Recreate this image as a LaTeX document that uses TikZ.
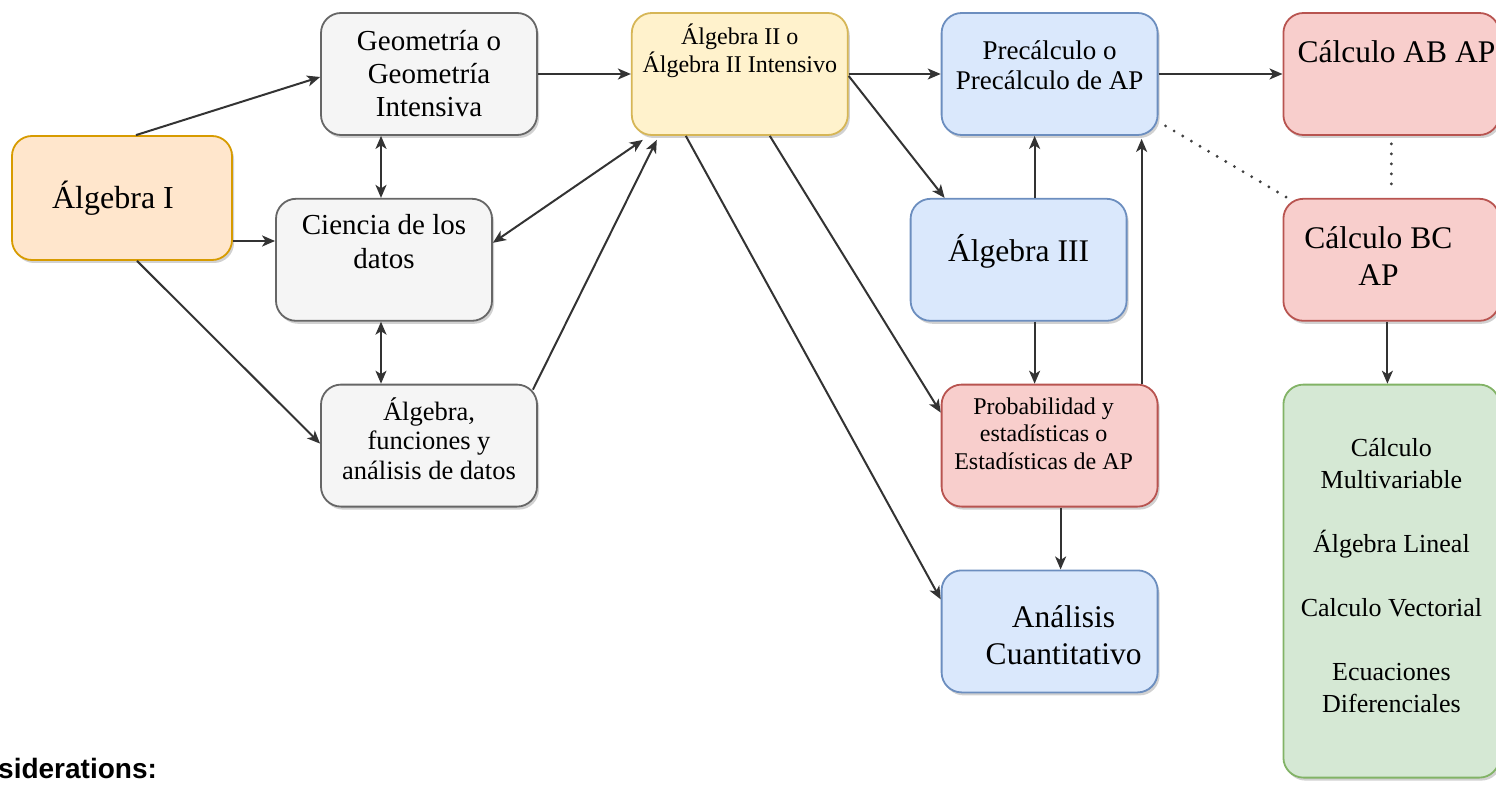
\documentclass[tikz,border=0pt]{standalone}
\usepackage{fontspec}
\setmainfont{Liberation Serif}
\setsansfont{Liberation Sans}
\usepackage{tikz}
\usetikzlibrary{arrows.meta,shadows,positioning}
\definecolor{naranjaF}{HTML}{FFE6CC}\definecolor{naranjaD}{HTML}{D79B00}
\definecolor{grisF}{HTML}{F5F5F5}\definecolor{grisD}{HTML}{666666}
\definecolor{amarilloF}{HTML}{FFF2CC}\definecolor{amarilloD}{HTML}{D6B656}
\definecolor{azulF}{HTML}{DAE8FC}\definecolor{azulD}{HTML}{6C8EBF}
\definecolor{rojoF}{HTML}{F8CECC}\definecolor{rojoD}{HTML}{B85450}
\definecolor{verdeF}{HTML}{D5E8D4}\definecolor{verdeD}{HTML}{82B366}

\begin{document}
\begin{tikzpicture}[x=1pt, y=1pt, node distance=62pt,
  caja/.style={rectangle, rounded corners=20pt, line width=1.8pt, minimum width=216pt, minimum height=122pt,
    drop shadow={shadow xshift=2pt, shadow yshift=-3pt, opacity=0.3, fill=black!60}},
  gris/.style={caja, draw=grisD, fill=grisF},
  naranja/.style={caja, draw=naranjaD, fill=naranjaF},
  amarillo/.style={caja, draw=amarilloD, fill=amarilloF},
  azul/.style={caja, draw=azulD, fill=azulF},
  rojo/.style={caja, draw=rojoD, fill=rojoF},
  verde/.style={caja, draw=verdeD, fill=verdeF},
  txt/.style 2 args={align=center, inner sep=0pt, font=\fontsize{#1}{#2}\selectfont},
  flecha/.style={draw=black!80, line width=2pt, -{Stealth[length=13pt, width=11pt, inset=3.5pt]}},
  doble/.style={flecha, {Stealth[length=13pt, width=11pt, inset=3.5pt]}-{Stealth[length=13pt, width=11pt, inset=3.5pt]}},
  punteada/.style={draw=black!75, line width=3.2pt, line cap=round, dash pattern=on 0pt off 10pt}]
        \useasboundingbox (0,0) rectangle (1496,-786);
        % first column
        \node[naranja, minimum width=220pt, minimum height=124pt, label={[txt={32}{37}, xshift=-9pt]center:Álgebra I}] (a) at (122,-198) {};
        \node[gris, label={[txt={29}{33}]center:{Geometría o\\Geometría\\Intensiva}}] (g) at (429,-74) {};
        \node[gris, below=of g, xshift=-45pt, label={[txt={29}{34}, yshift=18pt]center:{Ciencia de los\\datos}}] (c) {};
        \node[gris, below=of c, xshift=45pt, label={[txt={26.5}{29.5}, yshift=7pt]center:{Álgebra,\\funciones y\\análisis de datos}}] (f) {};
        % top row
        \node[amarillo, right=93pt of g, label={[txt={24}{28}, yshift=23pt]center:{Álgebra II o\\Álgebra II Intensivo}}] (b) {};
        \node[azul, right=92pt of b, label={[txt={27}{30}, yshift=9pt]center:{Precálculo o\\Precálculo de AP}}] (p) {};
        \node[rojo, right=124pt of p, label={[txt={31.5}{37}, xshift=5pt, yshift=22pt]center:Cálculo AB AP}] (ab) {};
        % lower nodes
        \node[azul, below=of p, xshift=-31pt, label={[txt={31.5}{37}, yshift=8pt]center:Álgebra III}] (t) {};
        \node[rojo, below=of t, xshift=31pt, label={[txt={24}{27.5}, xshift=-6pt, yshift=12pt]center:{Probabilidad y\\estadísticas o\\Estadísticas de AP}}] (s) {};
        \node[azul, below=of s, label={[txt={31.5}{37}, xshift=14pt, yshift=-4pt]center:{Análisis\\Cuantitativo}}] (q) {};
        \node[rojo, below=of ab, label={[txt={31.5}{37}, xshift=-13pt, yshift=4pt]center:{Cálculo BC\\AP}}] (bc) {};
        \node[verde, below=of bc, minimum height=393pt, label={[txt={26}{32}, yshift=6pt]center:{Cálculo\\Multivariable\\[32pt]Álgebra Lineal\\[32pt]Calculo Vectorial\\[32pt]Ecuaciones\\Diferenciales}}] (m) {};
        \node[anchor=base west, inner sep=0pt, font=\sffamily\bfseries\fontsize{28}{32}\selectfont] (n) at (-2,-778) {siderations:};
        % connectors
        \draw[flecha] ([xshift=14pt]a.north) -- ([yshift=-3pt]g.west);
        \draw[flecha] ([yshift=-43pt]a.east) -- ([yshift=-43pt]a.east -| c.west);
        \draw[flecha] ([xshift=15pt]a.south) -- ([yshift=2pt]f.west);
        \draw[doble] ([xshift=-3pt]c.north) -- ([xshift=-3pt]c.north |- g.south);
        \draw[doble] ([xshift=-3pt]c.south) -- ([xshift=-3pt]c.south |- f.north);
        \draw[flecha] (g.east) -- (b.west);
        \draw[doble] ([yshift=17pt]c.east) -- ([xshift=-97pt, yshift=-4pt]b.south);
        \draw[flecha] ([xshift=-5pt, yshift=-6pt]f.north east) -- ([xshift=-83pt, yshift=-4pt]b.south);
        \draw[flecha] (b.east) -- (p.west);
        \draw[flecha] ([yshift=-2pt]b.east) -- ([xshift=-74pt]t.north);
        \draw[flecha] ([xshift=-54pt]b.south) -- ([yshift=32pt]q.west);
        \draw[flecha] ([xshift=30pt]b.south) -- ([yshift=33pt]s.west);
        \draw[flecha] ([xshift=16pt]t.north) -- ([xshift=16pt]t.north |- p.south);
        \draw[flecha] ([xshift=16pt]t.south) -- ([xshift=16pt]t.south |- s.north);
        \draw[flecha] ([xshift=92pt]s.north) -- ([xshift=92pt, yshift=-3pt]s.north |- p.south);
        \draw[flecha] ([xshift=11pt]s.south) -- ([xshift=11pt]s.south |- q.north);
        \draw[flecha] (p.east) -- (ab.west);
        \draw[punteada] ([xshift=7pt, yshift=10pt]p.south east) -- ([xshift=5pt]bc.north west);
        \draw[punteada] ([yshift=-8pt]ab.south) -- ([yshift=8pt]bc.north);
        \draw[flecha] ([xshift=-4pt]bc.south) -- ([xshift=-4pt]bc.south |- m.north);
\end{tikzpicture}
\end{document}
